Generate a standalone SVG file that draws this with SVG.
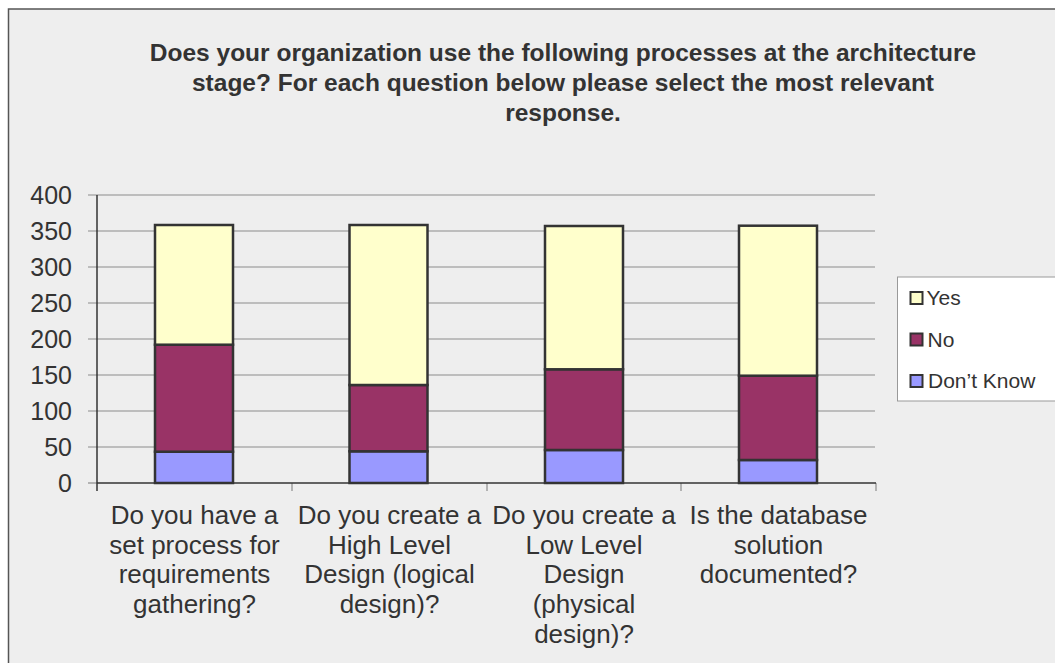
<svg xmlns="http://www.w3.org/2000/svg" width="1055" height="663" viewBox="0 0 1055 663">
<style>
  text { font-family: "Liberation Sans", Arial, sans-serif; fill: #333; }
  .title { font-size: 24.5px; font-weight: bold; text-anchor: middle; }
  .ylab { font-size: 25px; text-anchor: end; }
  .cat { font-size: 26px; text-anchor: middle; }
  .leg { font-size: 21px; }
  .grid { stroke: #8c8c8c; stroke-width: 1.2; }
  .axis { stroke: #333; stroke-width: 1.5; }
  .bar { stroke: #333; stroke-width: 2.5; }
  .yes { fill: #FFFFCC; }
  .no { fill: #993366; }
  .dk { fill: #9999FF; }
</style>
<rect x="0" y="0" width="1055" height="663" fill="#ffffff"/>
<rect id="chart-area" x="8.5" y="9" width="1060" height="670" fill="#eeeeee" stroke="#555" stroke-width="1.5"/>
<g id="title">
  <text class="title" x="563" y="61">Does your organization use the following processes at the architecture</text>
  <text class="title" x="563" y="91">stage? For each question below please select the most relevant</text>
  <text class="title" x="563" y="121">response.</text>
</g>
<g id="gridlines">
  <line class="grid" x1="88" y1="195" x2="875" y2="195"/>
  <line class="grid" x1="88" y1="231" x2="875" y2="231"/>
  <line class="grid" x1="88" y1="267" x2="875" y2="267"/>
  <line class="grid" x1="88" y1="303" x2="875" y2="303"/>
  <line class="grid" x1="88" y1="339" x2="875" y2="339"/>
  <line class="grid" x1="88" y1="375" x2="875" y2="375"/>
  <line class="grid" x1="88" y1="411" x2="875" y2="411"/>
  <line class="grid" x1="88" y1="447" x2="875" y2="447"/>
  <line class="grid" x1="88" y1="483" x2="97" y2="483"/>
  <line class="grid" x1="292" y1="483" x2="292" y2="491"/>
  <line class="grid" x1="487" y1="483" x2="487" y2="491"/>
  <line class="grid" x1="681" y1="483" x2="681" y2="491"/>
  <line class="grid" x1="876" y1="483" x2="876" y2="491"/>
</g>
<g id="axes">
  <line class="axis" x1="97" y1="195" x2="97" y2="491"/>
  <line class="axis" x1="97" y1="483" x2="876" y2="483"/>
</g>
<g id="y-labels">
  <text class="ylab" x="72" y="204">400</text>
  <text class="ylab" x="72" y="240">350</text>
  <text class="ylab" x="72" y="276">300</text>
  <text class="ylab" x="72" y="312">250</text>
  <text class="ylab" x="72" y="348">200</text>
  <text class="ylab" x="72" y="384">150</text>
  <text class="ylab" x="72" y="420">100</text>
  <text class="ylab" x="72" y="456">50</text>
  <text class="ylab" x="72" y="492">0</text>
</g>
<g id="bar-1">
  <rect class="bar dk" x="155" y="451.7" width="78" height="31.3"/>
  <rect class="bar no" x="155" y="344.7" width="78" height="107"/>
  <rect class="bar yes" x="155" y="225" width="78" height="119.7"/>
</g>
<g id="bar-2">
  <rect class="bar dk" x="349.5" y="451.3" width="78" height="31.7"/>
  <rect class="bar no" x="349.5" y="385" width="78" height="66.3"/>
  <rect class="bar yes" x="349.5" y="225" width="78" height="160"/>
</g>
<g id="bar-3">
  <rect class="bar dk" x="545" y="450" width="78" height="33"/>
  <rect class="bar no" x="545" y="369.3" width="78" height="80.7"/>
  <rect class="bar yes" x="545" y="226" width="78" height="143.3"/>
</g>
<g id="bar-4">
  <rect class="bar dk" x="739" y="460" width="78" height="23"/>
  <rect class="bar no" x="739" y="375.7" width="78" height="84.3"/>
  <rect class="bar yes" x="739" y="225.7" width="78" height="150"/>
</g>
<g id="category-labels">
  <text class="cat" x="194.5" y="524">Do you have a</text>
  <text class="cat" x="194.5" y="553.7">set process for</text>
  <text class="cat" x="194.5" y="583.4">requirements</text>
  <text class="cat" x="194.5" y="613.1">gathering?</text>
  <text class="cat" x="389.5" y="524">Do you create a</text>
  <text class="cat" x="389.5" y="553.7">High Level</text>
  <text class="cat" x="389.5" y="583.4">Design (logical</text>
  <text class="cat" x="389.5" y="613.1">design)?</text>
  <text class="cat" x="584" y="524">Do you create a</text>
  <text class="cat" x="584" y="553.7">Low Level</text>
  <text class="cat" x="584" y="583.4">Design</text>
  <text class="cat" x="584" y="613.1">(physical</text>
  <text class="cat" x="584" y="642.8">design)?</text>
  <text class="cat" x="778.5" y="524">Is the database</text>
  <text class="cat" x="778.5" y="553.7">solution</text>
  <text class="cat" x="778.5" y="583.4">documented?</text>
</g>
<g id="legend">
  <rect x="897.5" y="277" width="200" height="124" fill="#ffffff" stroke="#999" stroke-width="1"/>
  <rect class="yes" x="910.5" y="292" width="12" height="12" stroke="#333" stroke-width="2"/>
  <text class="leg" x="926.5" y="305">Yes</text>
  <rect class="no" x="910.5" y="333.5" width="12" height="12" stroke="#333" stroke-width="2"/>
  <text class="leg" x="927.5" y="346.5">No</text>
  <rect class="dk" x="910.5" y="375" width="12" height="12" stroke="#333" stroke-width="2"/>
  <text class="leg" x="928" y="388">Don’t Know</text>
</g>
</svg>
